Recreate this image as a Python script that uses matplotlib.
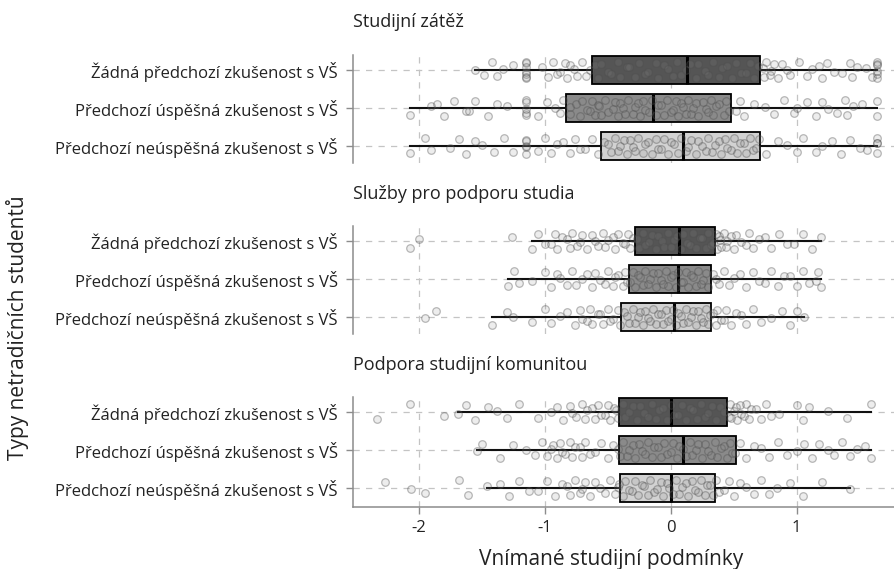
import numpy as np
import matplotlib
matplotlib.use("Agg")
import matplotlib.pyplot as plt

plt.rcParams['font.family'] = ['Open Sans', 'DejaVu Sans']

# kategorie a panely
groups = ["Žádná předchozí zkušenost s VŠ",
          "Předchozí úspěšná zkušenost s VŠ",
          "Předchozí neúspěšná zkušenost s VŠ"]
panels = ["Studijní zátěž", "Služby pro podporu studia", "Podpora studijní komunitou"]

# statistiky boxplotu: (whislo, q1, med, q3, whishi)
zatez_stats = [(-1.55, -0.62, 0.13, 0.71, 1.64),
               (-2.07, -0.83, -0.14, 0.48, 1.64),
               (-2.07, -0.55, 0.10, 0.71, 1.64)]
sluzby_stats = [(-1.10, -0.28, 0.07, 0.35, 1.19),
                (-1.29, -0.33, 0.06, 0.32, 1.19),
                (-1.42, -0.39, 0.03, 0.32, 1.06)]
komunita_stats = [(-1.69, -0.41, 0.00, 0.45, 1.59),
                  (-1.54, -0.41, 0.10, 0.52, 1.59),
                  (-1.46, -0.40, 0.00, 0.35, 1.42)]

# jednotlivá pozorování (odhad z obrázku)
zatez_none = [-1.55, -1.48, -1.42, -1.38, -1.33, -1.25, -1.15, -1.15, -1.15, -1.15, -1.15, -1.15, -1.15,
              -1.02, -0.97, -0.93, -0.9, -0.88, -0.84, -0.82, -0.8, -0.77, -0.74, -0.7, -0.67, -0.64,
              -0.6, -0.58, -0.55, -0.5, -0.47, -0.42, -0.4, -0.35, -0.33, -0.28, -0.25, -0.2, -0.18, -0.12,
              -0.1, -0.05, -0.02, 0.02, 0.05, 0.08, 0.12, 0.15, 0.2, 0.22, 0.27, 0.3, 0.34, 0.38, 0.41, 0.45,
              0.49, 0.52, 0.56, 0.6, 0.63, 0.66, 0.69, 0.73, 0.74, 0.76, 0.79, 0.8, 0.82, 0.85, 0.88, 0.92,
              0.95, 1.02, 1.08, 1.12, 1.18, 1.2, 1.24, 1.3, 1.36, 1.42, 1.44, 1.48, 1.55, 1.6, 1.64, 1.64,
              1.64, 1.64, 1.64, 1.64]
zatez_succ = [-2.07, -1.9, -1.85, -1.8, -1.72, -1.62, -1.6, -1.55, -1.45, -1.38, -1.3, -1.15, -1.15, -1.15,
              -1.15, -1.15, -1.05, -0.98, -0.92, -0.88, -0.85, -0.8, -0.8, -0.75, -0.72, -0.7, -0.66, -0.64,
              -0.62, -0.6, -0.58, -0.57, -0.55, -0.52, -0.5, -0.46, -0.44, -0.42, -0.4, -0.38, -0.36, -0.34,
              -0.3, -0.28, -0.26, -0.24, -0.22, -0.2, -0.17, -0.15, -0.12, -0.1, -0.08, -0.05, -0.03, 0.0,
              0.02, 0.04, 0.06, 0.08, 0.1, 0.12, 0.14, 0.16, 0.18, 0.2, 0.22, 0.26, 0.28, 0.3, 0.32, 0.34,
              0.36, 0.38, 0.42, 0.44, 0.46, 0.52, 0.55, 0.58, 0.66, 0.75, 0.82, 0.9, 0.98, 1.0, 1.08, 1.15,
              1.2, 1.25, 1.32, 1.38, 1.4, 1.45, 1.52, 1.64, 1.64]
zatez_fail = [-2.07, -1.95, -1.9, -1.75, -1.68, -1.62, -1.55, -1.5, -1.4, -1.32, -1.25, -1.15, -1.15, -1.15,
              -1.15, -1.15, -1.05, -1.0, -0.95, -0.9, -0.85, -0.8, -0.76, -0.72, -0.68, -0.62, -0.58, -0.53,
              -0.5, -0.47, -0.44, -0.42, -0.4, -0.37, -0.35, -0.32, -0.3, -0.28, -0.26, -0.22, -0.2, -0.18,
              -0.15, -0.12, -0.1, -0.08, -0.05, -0.02, 0.0, 0.03, 0.06, 0.08, 0.12, 0.14, 0.16, 0.2, 0.22,
              0.25, 0.28, 0.3, 0.33, 0.35, 0.38, 0.4, 0.43, 0.45, 0.48, 0.5, 0.53, 0.55, 0.58, 0.6, 0.63,
              0.65, 0.68, 0.7, 0.76, 0.85, 0.92, 1.0, 1.05, 1.15, 1.2, 1.28, 1.35, 1.42, 1.5, 1.56, 1.64,
              1.64, 1.64, 1.64]

sluzby_none = [-2.07, -2.0, -1.26, -1.1, -1.05, -1.0, -0.95, -0.92, -0.9, -0.86, -0.82, -0.8, -0.78, -0.74,
               -0.72, -0.7, -0.66, -0.62, -0.6, -0.58, -0.54, -0.52, -0.5, -0.46, -0.44, -0.42, -0.38, -0.36,
               -0.34, -0.32, -0.3, -0.27, -0.25, -0.22, -0.2, -0.17, -0.15, -0.12, -0.1, -0.07, -0.05, -0.02,
               0.0, 0.03, 0.05, 0.08, 0.1, 0.13, 0.15, 0.18, 0.2, 0.23, 0.25, 0.28, 0.3, 0.32, 0.34, 0.36,
               0.37, 0.38, 0.39, 0.4, 0.42, 0.44, 0.45, 0.48, 0.5, 0.52, 0.56, 0.6, 0.62, 0.65, 0.7, 0.75,
               0.8, 0.86, 0.92, 0.98, 1.05, 1.12, 1.19]
sluzby_succ = [-1.29, -1.24, -1.2, -1.1, -1.0, -0.95, -0.9, -0.88, -0.82, -0.78, -0.75, -0.7, -0.66, -0.62,
               -0.6, -0.56, -0.52, -0.5, -0.46, -0.44, -0.42, -0.38, -0.36, -0.35, -0.32, -0.3, -0.28, -0.26,
               -0.24, -0.22, -0.2, -0.18, -0.16, -0.14, -0.12, -0.1, -0.08, -0.06, -0.04, -0.02, 0.0, 0.02,
               0.04, 0.06, 0.08, 0.1, 0.12, 0.14, 0.16, 0.18, 0.2, 0.22, 0.24, 0.26, 0.28, 0.3, 0.34, 0.36,
               0.38, 0.42, 0.46, 0.5, 0.55, 0.6, 0.65, 0.7, 0.75, 0.8, 0.85, 0.9, 0.95, 1.0, 1.05, 1.1, 1.15,
               1.17, 1.19]
sluzby_fail = [-1.95, -1.86, -1.42, -1.3, -1.25, -1.1, -1.0, -0.95, -0.88, -0.82, -0.76, -0.72, -0.7, -0.66,
               -0.64, -0.62, -0.58, -0.56, -0.54, -0.5, -0.48, -0.46, -0.42, -0.4, -0.37, -0.35, -0.33, -0.3,
               -0.28, -0.26, -0.24, -0.22, -0.2, -0.18, -0.16, -0.14, -0.12, -0.1, -0.08, -0.06, -0.04,
               -0.02, 0.0, 0.02, 0.04, 0.06, 0.08, 0.1, 0.12, 0.14, 0.16, 0.18, 0.2, 0.22, 0.24, 0.26, 0.28,
               0.3, 0.31, 0.34, 0.36, 0.37, 0.4, 0.42, 0.44, 0.48, 0.52, 0.56, 0.6, 0.65, 0.72, 0.8, 0.88,
               0.95, 1.0, 1.06]

komunita_none = [-2.33, -2.07, -1.8, -1.69, -1.62, -1.55, -1.45, -1.38, -1.3, -1.2, -1.05, -0.95, -0.9,
                 -0.85, -0.8, -0.78, -0.75, -0.7, -0.68, -0.66, -0.62, -0.6, -0.58, -0.55, -0.52, -0.5, -0.48,
                 -0.45, -0.43, -0.42, -0.38, -0.36, -0.33, -0.3, -0.27, -0.24, -0.21, -0.18, -0.15, -0.12,
                 -0.09, -0.06, -0.03, 0.0, 0.03, 0.06, 0.09, 0.12, 0.15, 0.18, 0.21, 0.24, 0.27, 0.3, 0.33,
                 0.36, 0.39, 0.42, 0.46, 0.47, 0.48, 0.5, 0.52, 0.53, 0.55, 0.56, 0.58, 0.6, 0.62, 0.64, 0.68,
                 0.72, 0.76, 0.8, 0.86, 1.0, 1.05, 1.1, 1.25, 1.4, 1.59]
komunita_succ = [-1.54, -1.5, -1.35, -1.25, -1.15, -1.08, -1.02, -0.98, -0.95, -0.93, -0.9, -0.88, -0.86,
                 -0.84, -0.8, -0.78, -0.76, -0.72, -0.7, -0.68, -0.64, -0.6, -0.55, -0.5, -0.46, -0.42, -0.4,
                 -0.38, -0.35, -0.33, -0.3, -0.28, -0.25, -0.23, -0.2, -0.18, -0.15, -0.13, -0.1, -0.08,
                 -0.05, -0.03, 0.0, 0.02, 0.05, 0.07, 0.1, 0.12, 0.15, 0.17, 0.2, 0.22, 0.25, 0.27, 0.3, 0.32,
                 0.35, 0.37, 0.4, 0.42, 0.45, 0.47, 0.49, 0.51, 0.55, 0.6, 0.66, 0.72, 0.78, 0.85, 0.92, 1.0,
                 1.06, 1.12, 1.18, 1.25, 1.3, 1.36, 1.42, 1.48, 1.54, 1.59]
komunita_fail = [-2.27, -2.06, -1.95, -1.68, -1.61, -1.46, -1.35, -1.28, -1.2, -1.12, -1.05, -0.98, -0.92,
                 -0.86, -0.82, -0.8, -0.76, -0.72, -0.7, -0.68, -0.64, -0.6, -0.56, -0.52, -0.48, -0.44,
                 -0.42, -0.41, -0.38, -0.36, -0.33, -0.31, -0.28, -0.26, -0.23, -0.21, -0.18, -0.16, -0.13,
                 -0.11, -0.08, -0.06, -0.03, -0.01, 0.02, 0.04, 0.07, 0.09, 0.12, 0.14, 0.17, 0.19, 0.22,
                 0.24, 0.27, 0.29, 0.31, 0.34, 0.36, 0.38, 0.42, 0.46, 0.5, 0.55, 0.6, 0.66, 0.72, 0.78, 0.84,
                 0.95, 1.05, 1.2, 1.42]

all_stats = [zatez_stats, sluzby_stats, komunita_stats]
all_points = [[zatez_none, zatez_succ, zatez_fail],
              [sluzby_none, sluzby_succ, sluzby_fail],
              [komunita_none, komunita_succ, komunita_fail]]

box_colors = ["#555555", "#8a8a8a", "#d2d2d2"]
grid_col = "#c4c4c4"
spine_col = "#8c8c8c"
text_col = "#222222"

W, H = 895, 569
fig = plt.figure(figsize=(W / 100, H / 100), dpi=100)

# (top, bottom, title y) in pixels for each panel
panel_px = [(55, 163, 22), (226, 334, 194), (397, 507, 365)]
left_px = 353

for p in range(3):
    top, bot, ty = panel_px[p]
    ax = fig.add_axes([left_px / W, 1 - bot / H, 1 - left_px / W, (bot - top) / H])
    ax.set_xlim(-2.52, 1.78)
    # rows 38 px apart, first row 15 px below the top
    upp = 1 / 38
    ax.set_ylim(2 + (bot - top - 15 - 76) * upp, -15 * upp)

    for x in [-2, -1, 0, 1]:
        ax.axvline(x, color=grid_col, lw=0.9, ls=(0, (5, 5)), zorder=0)
    for y in range(3):
        ax.axhline(y, color=grid_col, lw=0.9, ls=(0, (5, 5)), zorder=0)

    stats = []
    for lo, q1, med, q3, hi in all_stats[p]:
        stats.append(dict(whislo=lo, q1=q1, med=med, q3=q3, whishi=hi, fliers=[]))
    bp = ax.bxp(stats, positions=[0, 1, 2], vert=False, widths=0.76, patch_artist=True,
                showcaps=False, showfliers=False,
                boxprops=dict(edgecolor="black", linewidth=1.3),
                whiskerprops=dict(color="#111111", linewidth=1.5),
                medianprops=dict(color="black", linewidth=2.2), zorder=2)
    for patch, c in zip(bp["boxes"], box_colors):
        patch.set_facecolor(c)

    for i, vals in enumerate(all_points[p]):
        vals = np.array(vals)
        jit = np.sin(np.arange(len(vals)) * 2.39 + i + p) * 0.21
        ax.scatter(vals, i + jit, s=30, facecolor=(0.55, 0.55, 0.55, 0.15),
                   edgecolor=(0.3, 0.3, 0.3, 0.38), linewidth=0.9, zorder=3)

    ax.set_yticks([0, 1, 2])
    ax.set_yticklabels(groups, fontsize=12, color=text_col)
    ax.tick_params(axis="y", length=5, width=1, color=spine_col, pad=6)
    for s in ["top", "right"]:
        ax.spines[s].set_visible(False)
    ax.spines["left"].set_color(spine_col)
    ax.spines["left"].set_linewidth(1.1)
    if p < 2:
        ax.spines["bottom"].set_visible(False)
        ax.set_xticks([])
    else:
        ax.spines["bottom"].set_color(spine_col)
        ax.spines["bottom"].set_linewidth(1.1)
        ax.set_xticks([-2, -1, 0, 1])
        ax.set_xticklabels(["-2", "-1", "0", "1"], fontsize=12, color=text_col)
        ax.tick_params(axis="x", length=5, width=1, color=spine_col, pad=4)

    fig.text(left_px / W, 1 - ty / H, panels[p], fontsize=13, color=text_col,
             ha="left", va="center")

fig.text(611 / W, 1 - 559 / H, "Vnímané studijní podmínky", fontsize=15,
         color=text_col, ha="center", va="center")
fig.text(18 / W, 1 - 328 / H, "Typy netradičních studentů", fontsize=15,
         color=text_col, ha="center", va="center", rotation=90)

fig.savefig("out.png", dpi=100)
